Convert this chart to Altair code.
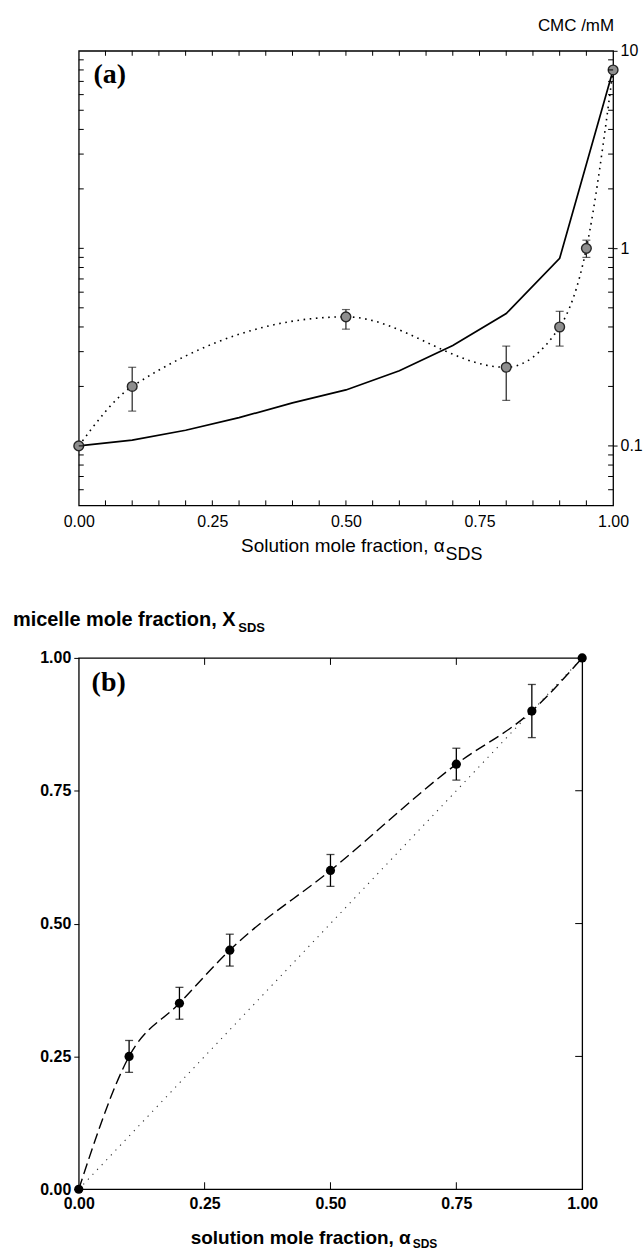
import altair as alt
import pandas as pd

# ---------------- panel (a): CMC of SDS mixtures ----------------
alpha_exp = [0.0, 0.1, 0.5, 0.8, 0.9, 0.95, 1.0]
cmc_exp = [0.10, 0.20, 0.45, 0.25, 0.40, 1.00, 8.0]

alpha_err = [0.1, 0.5, 0.8, 0.9, 0.95]
cmc_lo = [0.15, 0.39, 0.17, 0.32, 0.90]
cmc_hi = [0.25, 0.49, 0.32, 0.48, 1.10]

alpha_ideal = [0.0, 0.1, 0.2, 0.3, 0.4, 0.5, 0.6, 0.7, 0.8, 0.9, 1.0]
cmc_ideal = [0.100, 0.107, 0.120, 0.139, 0.165, 0.192, 0.240, 0.322, 0.468, 0.89, 8.0]

alpha_ticks_a = [0.0, 0.25, 0.5, 0.75, 1.0]
alpha_minor_a = [0.05, 0.1, 0.15, 0.2, 0.25, 0.3, 0.35, 0.4, 0.45, 0.5,
                 0.55, 0.6, 0.65, 0.7, 0.75, 0.8, 0.85, 0.9, 0.95]
cmc_ticks = [0.1, 1, 10]
cmc_minor = [0.06, 0.07, 0.08, 0.09, 0.1, 0.2, 0.3, 0.4, 0.5, 0.6, 0.7, 0.8, 0.9,
             1, 2, 3, 4, 5, 6, 7, 8, 9]

# ---------------- panel (b): micelle composition ----------------
alpha_b = [0.0, 0.1, 0.2, 0.3, 0.5, 0.75, 0.9, 1.0]
x_sds = [0.0, 0.25, 0.35, 0.45, 0.60, 0.80, 0.90, 1.0]

alpha_b_err = [0.1, 0.2, 0.3, 0.5, 0.75, 0.9]
x_sds_lo = [0.22, 0.32, 0.42, 0.57, 0.77, 0.85]
x_sds_hi = [0.28, 0.38, 0.48, 0.63, 0.83, 0.95]

diag = [0.0, 1.0]
ticks_b = [0.0, 0.25, 0.5, 0.75, 1.0]
inner_b = [0.25, 0.5, 0.75]

SANS = "Liberation Sans"
SERIF = "Liberation Serif"

W_A, H_A = 536, 456
W_B, H_B = 505, 533
TICK = 5

# ---------------- panel (a) ----------------
xs_a = alt.Scale(domain=[0, 1], nice=False, zero=False)
ys_a = alt.Scale(type="log", domain=[0.05, 10], nice=False)
ax_x_a = alt.Axis(values=alpha_ticks_a, format=".2f", ticks=False, domain=False,
                  grid=False, labelFont=SANS, labelFontSize=16, labelPadding=8,
                  labelColor="black", labelFlush=False, title=None)
ax_y_a = alt.Axis(orient="right", values=cmc_ticks, format="~g", ticks=True,
                  tickSize=4, tickColor="black", domain=False, grid=False,
                  labelFont=SANS, labelFontSize=16, labelPadding=3,
                  labelColor="black", labelFlush=False, title=None)

exp_a = pd.DataFrame({"alpha": alpha_exp, "cmc": cmc_exp})
ideal_a = pd.DataFrame({"alpha": alpha_ideal, "cmc": cmc_ideal})
err_a = pd.DataFrame({"alpha": alpha_err, "lo": cmc_lo, "hi": cmc_hi})
caps_a = pd.DataFrame({"alpha": alpha_err + alpha_err, "cmc": cmc_lo + cmc_hi})
xminor_a = pd.DataFrame({"alpha": alpha_minor_a})
yminor_a = pd.DataFrame({"cmc": cmc_minor})


def xa(field="alpha:Q"):
    return alt.X(field, scale=xs_a, axis=ax_x_a)


def ya(field="cmc:Q"):
    return alt.Y(field, scale=ys_a, axis=ax_y_a)


ideal_line = alt.Chart(ideal_a).mark_line(color="black", strokeWidth=1.7).encode(
    x=xa(), y=ya())

fit_line = alt.Chart(exp_a).mark_line(
    color="black", strokeWidth=1.6, strokeDash=[1.6, 4.6], interpolate="monotone"
).encode(x=xa(), y=ya())

err_rules_a = alt.Chart(err_a).mark_rule(color="#222", strokeWidth=1.2).encode(
    x=xa(), y=ya("lo:Q"), y2="hi:Q")
err_caps_a = alt.Chart(caps_a).mark_tick(
    orient="horizontal", size=8, thickness=1.2, color="#222"
).encode(x=xa(), y=ya())

points_a = alt.Chart(exp_a).mark_point(
    shape="circle", filled=True, size=95, fill="#8e8e8e", stroke="#262626",
    strokeWidth=1.4, opacity=1
).encode(x=xa(), y=ya())

# inward tick marks on all four sides of the frame
tick_top_a = alt.Chart(xminor_a).mark_rule(color="black", strokeWidth=1).encode(
    x=xa(), y=alt.value(0), y2=alt.value(TICK))
tick_bot_a = alt.Chart(xminor_a).mark_rule(color="black", strokeWidth=1).encode(
    x=xa(), y=alt.value(H_A - TICK), y2=alt.value(H_A))
tick_left_a = alt.Chart(yminor_a).mark_rule(color="black", strokeWidth=1).encode(
    y=ya(), x=alt.value(0), x2=alt.value(TICK))
tick_right_a = alt.Chart(yminor_a).mark_rule(color="black", strokeWidth=1).encode(
    y=ya(), x=alt.value(W_A - TICK), x2=alt.value(W_A))

label_a = alt.Chart(pd.DataFrame({"t": ["(a)"]})).mark_text(
    font=SERIF, fontSize=28, fontWeight="bold", align="center", baseline="alphabetic",
    color="black"
).encode(text="t:N", x=alt.value(31), y=alt.value(32))

unit_a = alt.Chart(pd.DataFrame({"t": ["CMC /mM"]})).mark_text(
    font=SANS, fontSize=17, align="right", baseline="alphabetic", color="black"
).encode(text="t:N", x=alt.value(W_A + 1), y=alt.value(-20))

xtitle_a = alt.Chart(pd.DataFrame({"t": ["Solution mole fraction, α"]})).mark_text(
    font=SANS, fontSize=19, align="right", baseline="alphabetic", color="black"
).encode(text="t:N", x=alt.value(367), y=alt.value(H_A + 47))
xsub_a = alt.Chart(pd.DataFrame({"t": ["SDS"]})).mark_text(
    font=SANS, fontSize=18, align="left", baseline="alphabetic", color="black"
).encode(text="t:N", x=alt.value(368), y=alt.value(H_A + 55))

panel_a = alt.layer(
    ideal_line, fit_line, err_rules_a, err_caps_a, points_a,
    tick_top_a, tick_bot_a, tick_left_a, tick_right_a,
    label_a, unit_a, xtitle_a, xsub_a,
).properties(width=W_A, height=H_A)

# ---------------- panel (b) ----------------
xs_b = alt.Scale(domain=[0, 1], nice=False, zero=False)
ys_b = alt.Scale(domain=[0, 1], nice=False, zero=False)
ax_x_b = alt.Axis(values=ticks_b, format=".2f", ticks=False, domain=False, grid=False,
                  labelFont=SANS, labelFontSize=16, labelFontWeight="bold",
                  labelPadding=6, labelColor="black", labelFlush=False, title=None)
ax_y_b = alt.Axis(values=ticks_b, format=".2f", ticks=True, tickSize=TICK,
                  tickColor="black", domain=False, grid=False,
                  labelFont=SANS, labelFontSize=16, labelFontWeight="bold",
                  labelPadding=3, labelColor="black", labelFlush=False, title=None)

exp_b = pd.DataFrame({"alpha": alpha_b, "x": x_sds})
err_b = pd.DataFrame({"alpha": alpha_b_err, "lo": x_sds_lo, "hi": x_sds_hi})
caps_b = pd.DataFrame({"alpha": alpha_b_err + alpha_b_err, "x": x_sds_lo + x_sds_hi})
diag_b = pd.DataFrame({"alpha": diag, "x": diag})
inner_x = pd.DataFrame({"alpha": inner_b})
inner_y = pd.DataFrame({"x": inner_b})


def xb(field="alpha:Q"):
    return alt.X(field, scale=xs_b, axis=ax_x_b)


def yb(field="x:Q"):
    return alt.Y(field, scale=ys_b, axis=ax_y_b)


diag_line = alt.Chart(diag_b).mark_line(
    color="#333", strokeWidth=1.1, strokeDash=[1.2, 5.5]
).encode(x=xb(), y=yb())

dash_line = alt.Chart(exp_b).mark_line(
    color="black", strokeWidth=1.4, strokeDash=[11, 5], interpolate="monotone"
).encode(x=xb(), y=yb())

err_rules_b = alt.Chart(err_b).mark_rule(color="black", strokeWidth=1.3).encode(
    x=xb(), y=yb("lo:Q"), y2="hi:Q")
err_caps_b = alt.Chart(caps_b).mark_tick(
    orient="horizontal", size=8, thickness=1.3, color="black"
).encode(x=xb(), y=yb())

points_b = alt.Chart(exp_b).mark_point(
    shape="circle", filled=True, size=85, color="black", opacity=1
).encode(x=xb(), y=yb())

tick_top_b = alt.Chart(inner_x).mark_rule(color="black", strokeWidth=1).encode(
    x=xb(), y=alt.value(0), y2=alt.value(7))
tick_bot_b = alt.Chart(inner_x).mark_rule(color="black", strokeWidth=1).encode(
    x=xb(), y=alt.value(H_B - 7), y2=alt.value(H_B))
tick_right_b = alt.Chart(inner_y).mark_rule(color="black", strokeWidth=1).encode(
    y=yb(), x=alt.value(W_B - 7), x2=alt.value(W_B))

label_b = alt.Chart(pd.DataFrame({"t": ["(b)"]})).mark_text(
    font=SERIF, fontSize=28, fontWeight="bold", align="center", baseline="alphabetic",
    color="black"
).encode(text="t:N", x=alt.value(30), y=alt.value(33))

ytitle_b = alt.Chart(pd.DataFrame({"t": ["micelle mole fraction, X"]})).mark_text(
    font=SANS, fontSize=20, fontWeight="bold", align="left", baseline="alphabetic",
    color="black"
).encode(text="t:N", x=alt.value(-66), y=alt.value(-32))
ysub_b = alt.Chart(pd.DataFrame({"t": ["SDS"]})).mark_text(
    font=SANS, fontSize=13, fontWeight="bold", align="left", baseline="alphabetic",
    color="black"
).encode(text="t:N", x=alt.value(160), y=alt.value(-26))

xtitle_b = alt.Chart(pd.DataFrame({"t": ["solution mole fraction, α"]})).mark_text(
    font=SANS, fontSize=19, fontWeight="bold", align="right", baseline="alphabetic",
    color="black"
).encode(text="t:N", x=alt.value(333), y=alt.value(H_B + 55))
xsub_b = alt.Chart(pd.DataFrame({"t": ["SDS"]})).mark_text(
    font=SANS, fontSize=12, fontWeight="bold", align="left", baseline="alphabetic",
    color="black"
).encode(text="t:N", x=alt.value(335), y=alt.value(H_B + 59))

panel_b = alt.layer(
    diag_line, dash_line, err_rules_b, err_caps_b, points_b,
    tick_top_b, tick_bot_b, tick_right_b,
    label_b, ytitle_b, ysub_b, xtitle_b, xsub_b,
).properties(width=W_B, height=H_B)

chart = alt.vconcat(panel_a, panel_b, spacing=153, bounds="flush").properties(
    padding={"left": 12, "top": 14, "right": 0, "bottom": 0},
    background="white",
).configure_view(stroke="black", strokeWidth=1.3)

chart.save("out.html", embed_options={"renderer": "svg", "actions": False})
